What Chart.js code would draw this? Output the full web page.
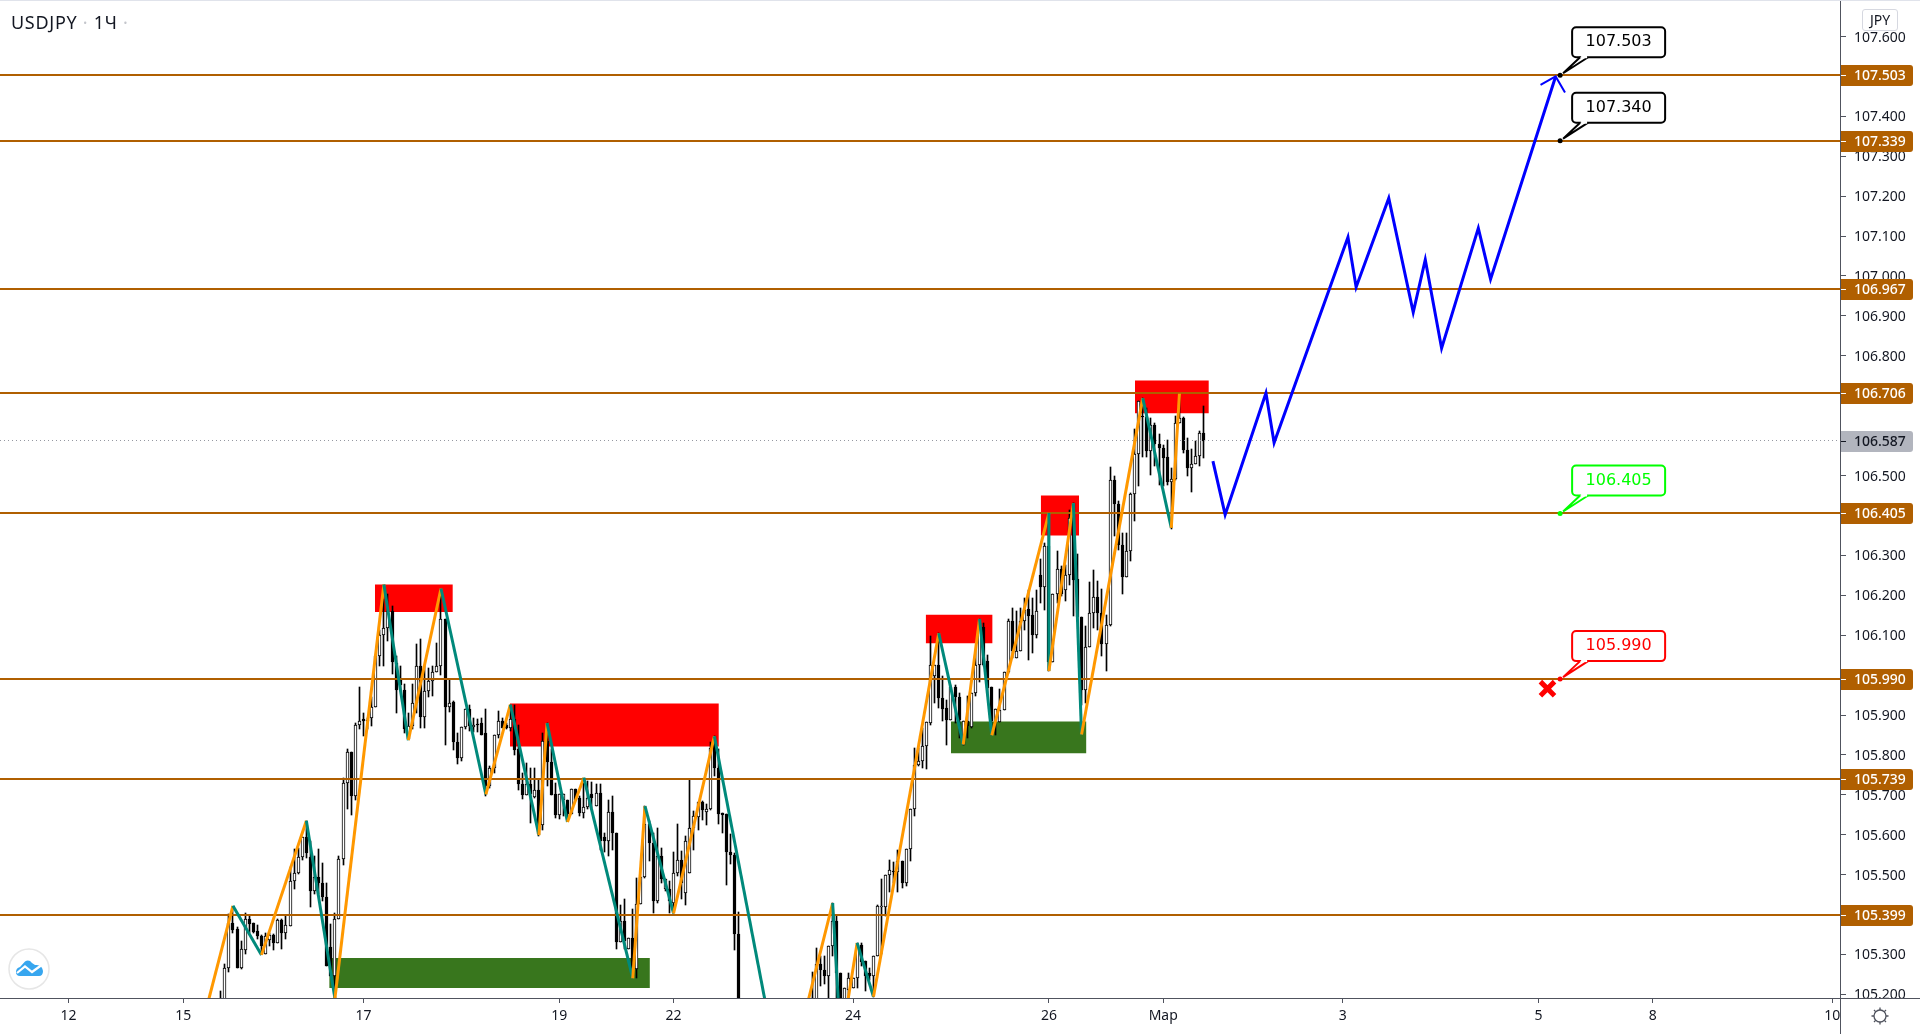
<!DOCTYPE html>
<html>
<head>
<meta charset="utf-8">
<title>USDJPY</title>
<script src="https://cdn.jsdelivr.net/npm/chart.js@4/dist/chart.umd.min.js"></script>
<style>
    html, body { margin: 0; padding: 0; background: #fff; overflow: hidden; }
    #wrap { position: relative; width: 1920px; height: 1034px; }
    #chart { position: absolute; left: 0; top: 0; }
    #symbol { position: absolute; left: 11px; top: 9px; font: 18px/26px "Noto Sans", sans-serif; color: #131722; letter-spacing: 0.7px; white-space: pre; }
    #symbol span { color: #c4c6cc; }
    #currency { position: absolute; left: 1862px; top: 9px; width: 34px; height: 20px; border: 1px solid #d6d8e0; border-radius: 3px; background: #fff; font: 14px/20px "Noto Sans", sans-serif; color: #131722; text-align: center; }
    #logo { position: absolute; left: 8px; top: 948px; }
    #gear { position: absolute; left: 1868px; top: 1004px; }
</style>
</head>
<body>
<div id="wrap">
    <canvas id="chart" width="1920" height="1034"></canvas>
    <div id="symbol">USDJPY <span>·</span> 1Ч <span>·</span></div>
    <div id="currency">JPY</div>
    <svg id="logo" width="42" height="42" viewBox="0 0 42 42">
        <circle cx="21" cy="21" r="20" fill="#fff" stroke="#e6e6e6" stroke-width="1.5"/>
        <path d="M8 24 Q8 20 12 19 L17 13.5 Q21 11 24 15 L27 17 Q34 16 35 23 Q35 28 31 28 L12 28 Q8 28 8 24Z" fill="#37a6ef"/>
        <polyline points="9,25 17,18.5 24,24 33,17.5" fill="none" stroke="#fff" stroke-width="2.2"/>
    </svg>
    <svg id="gear" width="24" height="24" viewBox="0 0 24 24" fill="none" stroke="#50535e" stroke-width="1.3">
        <circle cx="12" cy="12" r="6"/>
        <path d="M12 3.5V6M12 18V20.5M3.5 12H6M18 12H20.5M6 6L7.6 7.6M16.4 16.4L18 18M6 18L7.6 16.4M16.4 7.6L18 6"/>
    </svg>
</div>
<script>
// hourly candles, one slot per bar; nulls are bars that sit under the visible range
const opens = [
    105.16,105.18,105.267,105.38,105.365,105.265,105.312,105.39,105.378,105.358,
    105.347,105.3,105.337,105.348,105.33,105.387,105.353,105.372,105.484,105.505,
    105.545,105.595,105.545,105.46,105.493,105.48,105.443,105.318,105.247,105.39,
    105.54,105.729,105.808,105.696,105.874,105.889,105.887,105.893,105.92,106.048,
    106.101,106.119,106.16,106.031,105.99,105.963,105.84,105.873,105.931,106.023,
    105.894,105.96,105.984,106.009,106.023,106.141,105.92,105.933,105.833,105.793,
    105.871,105.916,105.871,105.878,105.879,105.854,105.723,105.768,105.849,105.886,
    105.874,105.868,105.89,105.814,105.728,105.699,105.726,105.695,105.711,105.624,
    105.834,105.783,105.701,105.649,105.688,105.688,105.653,105.715,105.693,105.655,
    105.67,105.701,105.672,105.705,105.595,105.584,105.657,105.605,105.331,105.385,
    105.313,105.342,105.264,105.427,105.495,105.626,105.58,105.434,105.547,105.463,
    105.463,105.43,105.505,105.538,105.455,105.505,105.617,105.645,105.682,105.657,
    105.665,105.847,105.768,105.654,105.651,105.556,105.549,105.352,
    null,null,null,null,null,null,null,null,null,null,null,null,null,null,null,null,null,
    105.16,105.17,105.275,105.262,105.246,
    105.321,105.383,105.254,105.179,105.212,105.215,105.242,105.325,105.283,105.254,
    105.246,105.296,105.419,105.419,105.498,105.509,105.506,105.535,105.479,105.565,
    105.665,105.774,105.784,105.823,105.88,105.999,106.026,105.943,105.918,105.887,
    105.97,105.945,105.826,105.886,105.87,105.955,106.026,106.12,106.035,105.97,
    105.884,105.882,105.912,106.007,106.135,106.043,106.06,106.135,106.166,106.151,
    106.1,106.252,106.222,106.324,106.032,106.202,106.266,106.212,106.252,106.431,
    106.241,106.146,105.962,106.07,106.156,106.196,106.156,106.079,106.126,106.488,
    106.429,106.325,106.247,106.31,106.454,106.554,106.65,106.646,106.561,106.626,
    106.58,106.569,106.546,106.483,106.491,106.631,106.644,106.565,106.518,106.529,
    106.548,106.606
];
const highs = [
    105.208,105.277,105.401,105.42,105.37,105.334,105.405,105.398,105.38,105.374,
    105.348,105.353,105.355,105.351,105.389,105.389,105.398,105.52,105.565,105.568,
    105.595,105.635,105.585,105.547,105.565,105.53,105.48,105.376,105.403,105.547,
    105.743,105.814,105.808,105.881,105.97,105.904,105.892,105.944,106.05,106.113,
    106.19,106.202,106.173,106.048,106.024,105.977,105.906,105.977,106.077,106.091,
    106.023,106.019,106.023,106.081,106.217,106.141,105.99,105.935,105.856,105.871,
    105.916,105.926,105.893,105.889,105.893,105.914,105.772,105.851,105.91,105.893,
    105.88,105.926,105.924,105.874,105.755,105.779,105.768,105.768,105.74,105.854,
    105.88,105.814,105.73,105.703,105.701,105.688,105.715,105.715,105.698,105.73,
    105.734,105.732,105.726,105.726,105.605,105.688,105.698,105.605,105.425,105.438,
    105.342,105.413,105.491,105.495,105.672,105.634,105.605,105.617,105.567,105.49,
    105.484,105.556,105.626,105.559,105.597,105.738,105.659,105.682,105.684,105.676,
    105.832,105.847,105.814,105.655,105.651,105.601,105.555,105.406,
    null,null,null,null,null,null,null,null,null,null,null,null,null,null,null,null,null,
    105.256,105.317,105.296,105.296,105.322,
    105.429,105.4,105.254,105.215,105.254,105.242,105.329,105.329,105.283,105.267,
    105.297,105.423,105.488,105.5,105.538,105.531,105.563,105.535,105.565,105.665,
    105.817,105.817,105.868,105.883,106.099,106.026,106.105,105.997,105.937,105.974,
    105.976,105.955,105.886,105.947,105.955,106.064,106.141,106.131,106.051,105.97,
    105.915,105.964,106.007,106.141,106.168,106.16,106.168,106.193,106.214,106.193,
    106.214,106.291,106.331,106.406,106.202,106.312,106.273,106.277,106.414,106.431,
    106.304,106.146,106.124,106.234,106.264,106.235,106.216,106.151,106.521,106.498,
    106.435,106.356,106.356,106.456,106.616,106.686,106.694,106.669,106.644,106.631,
    106.605,106.577,106.59,106.519,106.648,106.705,106.646,106.594,106.566,106.586,
    106.611,106.675
];
const lows = [
    105.14,105.15,105.255,105.355,105.265,105.263,105.3,105.353,105.353,105.338,
    105.3,105.3,105.322,105.312,105.33,105.315,105.338,105.372,105.464,105.501,
    105.537,105.543,105.42,105.451,105.451,105.434,105.272,105.247,105.19,105.39,
    105.525,105.664,105.649,105.687,105.864,105.848,105.865,105.873,105.919,106.023,
    106.023,106.086,106.002,105.904,105.96,105.856,105.84,105.864,105.904,105.868,
    105.868,105.944,105.948,106.009,106.0,105.825,105.908,105.813,105.778,105.785,
    105.866,105.86,105.858,105.858,105.851,105.698,105.718,105.755,105.843,105.868,
    105.864,105.86,105.801,105.713,105.69,105.699,105.63,105.693,105.597,105.613,
    105.722,105.699,105.642,105.64,105.647,105.637,105.653,105.688,105.647,105.642,
    105.665,105.668,105.672,105.563,105.556,105.547,105.563,105.313,105.331,105.314,
    105.313,105.24,105.24,105.427,105.492,105.534,105.405,105.43,105.48,105.459,
    105.405,105.405,105.496,105.438,105.425,105.505,105.562,105.612,105.638,105.624,
    105.663,105.747,105.626,105.605,105.475,105.526,105.311,105.1,
    null,null,null,null,null,null,null,null,null,null,null,null,null,null,null,null,null,
    105.15,105.15,105.221,105.225,105.191,
    105.296,105.191,105.162,105.162,105.191,105.215,105.216,105.271,105.208,105.237,
    105.194,105.296,105.3,105.396,105.456,105.479,105.456,105.467,105.471,105.534,
    105.646,105.772,105.767,105.766,105.876,105.93,105.918,105.884,105.826,105.887,
    105.88,105.843,105.826,105.843,105.868,105.947,105.982,106.022,105.951,105.849,
    105.851,105.882,105.912,106.005,106.043,106.043,106.06,106.114,106.039,106.055,
    106.093,106.181,106.162,106.01,106.032,106.181,106.197,106.185,106.227,106.149,
    106.146,105.926,105.93,106.07,106.118,106.114,106.047,106.01,106.124,106.348,
    106.314,106.204,106.247,106.285,106.387,106.473,106.546,106.546,106.502,106.523,
    106.477,106.475,106.477,106.366,106.49,106.631,106.556,106.498,106.46,106.529,
    106.525,106.544
];
const closes = [
    105.17,105.267,105.38,105.362,105.267,105.313,105.39,105.376,105.357,105.347,
    105.322,105.347,105.348,105.33,105.387,105.353,105.373,105.484,105.505,105.545,
    105.595,105.555,105.46,105.493,105.48,105.443,105.272,105.247,105.39,105.54,
    105.729,105.808,105.696,105.874,105.886,105.885,105.885,105.92,106.048,106.101,
    106.119,106.16,106.033,105.963,105.975,105.866,105.873,105.931,106.023,105.894,
    105.96,105.984,106.009,106.023,106.141,105.92,105.931,105.833,105.793,105.871,
    105.916,105.873,105.875,105.875,105.851,105.723,105.768,105.849,105.886,105.868,
    105.868,105.89,105.812,105.728,105.699,105.726,105.701,105.711,105.601,105.834,
    105.783,105.699,105.649,105.701,105.701,105.653,105.715,105.688,105.655,105.67,
    105.693,105.693,105.705,105.584,105.584,105.657,105.605,105.331,105.385,105.334,
    105.342,105.246,105.427,105.495,105.626,105.58,105.434,105.547,105.49,105.49,
    105.434,105.505,105.538,105.478,105.584,105.617,105.647,105.682,105.663,105.665,
    105.818,105.768,105.653,105.65,105.556,105.549,105.352,105.15,
    null,null,null,null,null,null,null,null,null,null,null,null,null,null,null,null,null,
    105.19,105.275,105.261,105.246,105.322,
    105.383,105.254,105.179,105.215,105.242,105.242,105.325,105.281,105.246,105.246,
    105.297,105.421,105.421,105.498,105.511,105.506,105.534,105.479,105.565,105.665,
    105.776,105.784,105.823,105.883,106.026,106.026,105.943,105.916,105.887,105.97,
    105.945,105.888,105.886,105.872,105.955,106.026,106.131,106.026,105.968,105.884,
    105.915,105.912,106.007,106.135,106.06,106.06,106.135,106.164,106.149,106.1,
    106.16,106.222,106.324,106.032,106.202,106.266,106.202,106.252,106.394,106.239,
    106.146,105.962,106.07,106.156,106.196,106.156,106.079,106.126,106.488,106.429,
    106.325,106.247,106.31,106.454,106.554,106.686,106.646,106.561,106.626,106.58,
    106.568,106.545,106.483,106.491,106.631,106.644,106.563,106.518,106.529,106.548,
    106.606,106.587
];

// zigzag drawn over the candles
const zigzagBars = [-4,3,10,21,28,40,46,54,65,71,78,80,85,89,101,104,111,121,138,150,152,156,160,176,182,186,189,203,203,209,211,226,233,235];
const zigzagPrices = [105.145,105.422,105.299,105.635,105.19,106.227,105.837,106.217,105.701,105.926,105.599,105.88,105.632,105.743,105.24,105.672,105.403,105.847,104.94,105.429,105.075,105.329,105.194,106.105,105.826,106.141,105.849,106.406,106.01,106.431,105.851,106.694,106.369,106.705];

// blue forecast path and its arrow head
const forecastBars = [243.2,246.2,256.2,258.2,276.3,278.3,286.3,292.3,295.25,299.25,308.25,311.25,327.2];
const forecastPrices = [106.536,106.402,106.707,106.582,107.097,106.972,107.195,106.909,107.041,106.819,107.12,106.992,107.5];
const arrowBars = [323.5,327.2,329.5];
const arrowPrices = [107.479,107.5,107.46];

// supply and demand zones
const redStart = [37.8,70.9,172.8,201,224.1];
const redEnd = [56.9,122.1,189.2,210.4,242.2];
const redTop = [106.227,105.929,106.151,106.45,106.738];
const redBottom = [106.158,105.821,106.08,106.35,106.656];
const greenStart = [26.6,179];
const greenEnd = [105.2,212.2];
const greenTop = [105.291,105.884];
const greenBottom = [105.216,105.804];

// horizontal levels and the last price
const levels = [107.503,107.339,106.967,106.706,106.405,105.99,105.739,105.399];
const lastPrice = 106.587;

// callouts on the right
const calloutBar = 328.3;
const calloutPrices = [107.503,107.339,106.405,105.99];
const calloutTexts = ['107.503','107.340','106.405','105.990'];
const calloutColors = ['#000000','#000000','#00ff00','#ff0000'];
const stopBar = 325.2;
const stopPrice = 105.966;

// axes
const xTickBars = [-37.3,-9.2,35,83,111,155,203,231,275,323,351,395];
const xTickLabels = ['12','15','17','19','22','24','26','Мар','3','5','8','10'];
const yTickValues = [105.2,105.3,105.4,105.5,105.6,105.7,105.8,105.9,106.0,106.1,106.2,106.3,106.4,106.5,106.7,106.8,106.9,107.0,107.1,107.2,107.3,107.4,107.5,107.6];

const xMin = -54.09, xMax = 396.9, yMin = 105.191, yMax = 107.689;

const axisColor = '#50535e';
const levelColor = '#b05f00';
const tickFont = { family: '"Noto Sans", sans-serif', size: 14 };

const barData = [];
opens.forEach((open, i) => {
    if (open !== null) barData.push({ i, open, high: highs[i], low: lows[i], close: closes[i] });
});

function pairLine(x0, y0, x1, y1) {
    return [{ x: x0, y: y0 }, { x: x1, y: y1 }];
}

function zoneDataset(start, end, top, bottom, color) {
    return {
        type: 'line',
        data: pairLine(start, top, end, top),
        borderWidth: 0,
        pointRadius: 0,
        backgroundColor: color,
        fill: { value: bottom },
        order: 6,
    };
}

function levelDataset(price) {
    return {
        type: 'line',
        label: 'level',
        data: pairLine(xMin, price, xMax, price),
        borderColor: levelColor,
        borderWidth: 2,
        pointRadius: 0,
        order: 2,
    };
}

const datasets = [
    ...redStart.map((s, k) => zoneDataset(s, redEnd[k], redTop[k], redBottom[k], '#ff0000')),
    ...greenStart.map((s, k) => zoneDataset(s, greenEnd[k], greenTop[k], greenBottom[k], '#38761d')),
    {
        label: 'wicks',
        data: barData.map(b => ({ x: b.i, y: [b.low, b.high] })),
        backgroundColor: '#000',
        barThickness: 1,
        grouped: false,
        order: 5,
    },
    {
        label: 'bodies',
        data: barData.map(b => ({ x: b.i, y: [b.open, b.close] })),
        backgroundColor: barData.map(b => (b.close >= b.open ? '#fff' : '#000')),
        borderColor: '#000',
        borderWidth: 1,
        borderSkipped: false,
        barThickness: 3,
        minBarLength: 1,
        grouped: false,
        order: 4,
    },
    {
        type: 'line',
        label: 'last price',
        data: pairLine(xMin, lastPrice, xMax, lastPrice),
        borderColor: '#9598a1',
        borderWidth: 1,
        borderDash: [1, 3],
        pointRadius: 0,
        order: 3,
    },
    ...levels.map(levelDataset),
    {
        type: 'line',
        label: 'zigzag',
        data: zigzagBars.map((x, k) => ({ x, y: zigzagPrices[k] })),
        borderWidth: 3,
        pointRadius: 0,
        borderJoinStyle: 'miter',
        segment: {
            borderColor: ctx => (ctx.p1.parsed.y > ctx.p0.parsed.y ? '#ff9800' : '#00897b'),
        },
        order: 1,
    },
    {
        type: 'line',
        label: 'forecast',
        data: forecastBars.map((x, k) => ({ x, y: forecastPrices[k] })),
        borderColor: '#0000ff',
        borderWidth: 3,
        borderJoinStyle: 'miter',
        pointRadius: 0,
        order: 0,
    },
    {
        type: 'line',
        label: 'arrow',
        data: arrowBars.map((x, k) => ({ x, y: arrowPrices[k] })),
        borderColor: '#0000ff',
        borderWidth: 2,
        borderJoinStyle: 'miter',
        pointRadius: 0,
        order: 0,
    },
    {
        type: 'line',
        label: 'stop',
        data: [{ x: stopBar, y: stopPrice }],
        showLine: false,
        pointStyle: 'crossRot',
        pointRadius: 10,
        pointBorderColor: '#ff0000',
        pointBorderWidth: 5,
        order: 0,
    },
];

function drawTag(ctx, y, text, bg, fg) {
    ctx.fillStyle = bg;
    ctx.beginPath();
    ctx.roundRect(1840, Math.round(y) - 10, 73, 21, [0, 3, 3, 0]);
    ctx.fill();
    ctx.fillStyle = fg;
    ctx.fillRect(1841, Math.round(y), 5, 1);
    ctx.font = '500 14px "Noto Sans", sans-serif';
    ctx.textAlign = 'left';
    ctx.textBaseline = 'middle';
    ctx.fillText(text, 1854, Math.round(y) + 1);
}

function drawCallout(ctx, x, y, text, color) {
    const left = x + 12, top = y - 48, w = 93, h = 30;
    ctx.strokeStyle = color;
    ctx.lineWidth = 2;
    ctx.fillStyle = '#fff';
    ctx.beginPath();
    ctx.roundRect(left, top, w, h, 4);
    ctx.fill();
    ctx.stroke();
    // tail, white inside so the box looks open towards the anchor
    ctx.beginPath();
    ctx.moveTo(left + 8, top + h);
    ctx.lineTo(x + 3, y - 2);
    ctx.lineTo(left + 16, top + h);
    ctx.fill();
    ctx.stroke();
    ctx.fillStyle = '#fff';
    ctx.fillRect(left + 9, top + h - 2, 6, 3);
    ctx.fillStyle = color;
    ctx.beginPath();
    ctx.arc(x, y, 2.5, 0, Math.PI * 2);
    ctx.fill();
    ctx.font = '16px "DejaVu Sans", sans-serif';
    ctx.textAlign = 'center';
    ctx.textBaseline = 'middle';
    ctx.fillText(text, left + w / 2, top + h / 2);
}

// snap candles and level lines to whole pixels so they stay crisp
const snapPlugin = {
    id: 'snap',
    beforeDatasetsDraw(chart) {
        chart.data.datasets.forEach((ds, k) => {
            const meta = chart.getDatasetMeta(k);
            if (ds.label === 'wicks' || ds.label === 'bodies') {
                meta.data.forEach(el => {
                    el.x = Math.floor(el.x) + 0.5;
                    el.y = Math.round(el.y);
                    el.base = Math.round(el.base);
                });
            } else if (ds.label === 'level') {
                meta.data.forEach(pt => { pt.y = Math.round(pt.y); });
            } else if (ds.label === 'last price') {
                meta.data.forEach(pt => { pt.y = Math.floor(pt.y) + 0.5; });
            }
        });
    },
};

const overlayPlugin = {
    id: 'overlay',
    afterDraw(chart) {
        const { ctx, scales } = chart;
        ctx.save();
        calloutPrices.forEach((price, k) => {
            drawCallout(ctx, scales.x.getPixelForValue(calloutBar), scales.y.getPixelForValue(price), calloutTexts[k], calloutColors[k]);
        });
        drawTag(ctx, scales.y.getPixelForValue(lastPrice), lastPrice.toFixed(3), '#b2b5be', '#131722');
        levels.forEach(level => drawTag(ctx, scales.y.getPixelForValue(level), level.toFixed(3), levelColor, '#fff'));
        // time pane covers the bottom of the price scale
        ctx.fillStyle = '#fff';
        ctx.fillRect(1841, 999, 79, 35);
        ctx.fillStyle = axisColor;
        ctx.fillRect(1840, 1, 1, 1033);
        ctx.fillRect(0, 998, 1920, 1);
        ctx.fillStyle = '#e0e3eb';
        ctx.fillRect(0, 0, 1920, 1);
        ctx.restore();
    },
};

new Chart(document.getElementById('chart'), {
    type: 'bar',
    data: { datasets },
    plugins: [snapPlugin, overlayPlugin],
    options: {
        responsive: false,
        animation: false,
        devicePixelRatio: 1,
        events: [],
        layout: { autoPadding: false, padding: { top: 1, left: 0, right: 0, bottom: 0 } },
        plugins: { legend: { display: false }, tooltip: { enabled: false }, title: { display: false } },
        scales: {
            x: {
                type: 'linear',
                min: xMin,
                max: xMax,
                offset: false,
                border: { display: false },
                grid: { display: true, drawOnChartArea: false, offset: false, color: axisColor, tickLength: 5, tickColor: axisColor },
                afterBuildTicks: axis => { axis.ticks = xTickBars.map(value => ({ value })); },
                afterFit: axis => { axis.height = 36; axis.paddingLeft = 0; axis.paddingRight = 0; },
                ticks: {
                    autoSkip: false,
                    maxRotation: 0,
                    padding: 5,
                    color: '#131722',
                    font: tickFont,
                    callback: value => xTickLabels[xTickBars.indexOf(value)],
                },
            },
            y: {
                type: 'linear',
                position: 'right',
                min: yMin,
                max: yMax,
                beginAtZero: false,
                border: { display: false },
                grid: { display: true, drawOnChartArea: false, color: axisColor, tickLength: 6, tickColor: axisColor },
                afterBuildTicks: axis => { axis.ticks = yTickValues.map(value => ({ value })); },
                afterFit: axis => { axis.width = 80; axis.paddingTop = 0; axis.paddingBottom = 0; },
                ticks: {
                    autoSkip: false,
                    padding: 8,
                    labelOffset: 1,
                    color: '#131722',
                    font: tickFont,
                    callback: value => value.toFixed(3),
                },
            },
        },
    },
});
</script>
</body>
</html>
